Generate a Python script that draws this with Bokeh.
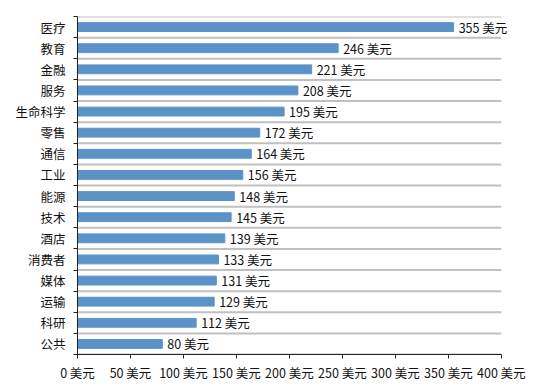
from bokeh.plotting import figure
from bokeh.models import FixedTicker, ColumnDataSource, Range1d
from bokeh.core.properties import value
from bokeh.embed import file_html
from bokeh.resources import INLINE

categories = ["医疗", "教育", "金融", "服务", "生命科学", "零售", "通信", "工业",
              "能源", "技术", "酒店", "消费者", "媒体", "运输", "科研", "公共"]
values = [355, 246, 221, 208, 195, 172, 164, 156, 148, 145, 139, 133, 131, 129, 112, 80]
x_ticks = [0, 50, 100, 150, 200, 250, 300, 350, 400]
unit = "美元"

FONT = "Noto Sans CJK SC"
n = len(categories)
centers = [n - i - 0.5 for i in range(n)]
bounds = list(range(n + 1))
xmin, xmax = x_ticks[0], x_ticks[-1]

src = ColumnDataSource(dict(
    y=centers, v=values, lab=[f"{v} {unit}" for v in values]))
grid_src = ColumnDataSource(dict(
    y=bounds, x0=[xmin] * len(bounds), x1=[xmax] * len(bounds)))

# extra room beyond the last tick so value labels are not clipped
p = figure(width=545, height=384, output_backend="svg", toolbar_location=None,
           x_range=Range1d(xmin, xmax * 1.05), y_range=Range1d(0, n),
           min_border_left=77, min_border_right=23, min_border_top=16, min_border_bottom=23)
p.outline_line_color = None
p.background_fill_color = "white"
p.xgrid.grid_line_color = None
p.ygrid.grid_line_color = None

p.segment(x0="x0", x1="x1", y0="y", y1="y", source=grid_src,
          line_color="#c0c0c0", line_width=2)
p.hbar(y="y", right="v", left=0, height=0.42, source=src, color="#5b93c8")
p.text(x="v", y="y", text="lab", source=src, x_offset=5, text_baseline="middle",
       text_align="left", text_font=value(FONT), text_font_size="12.5px",
       text_color="#111111")

# x axis
p.xaxis.bounds = (xmin, xmax)
p.xaxis.ticker = FixedTicker(ticks=x_ticks)
p.xaxis.major_label_overrides = {t: f"{t} {unit}" for t in x_ticks}
p.xaxis.major_label_text_font = FONT
p.xaxis.major_label_text_font_size = "12.5px"
p.xaxis.major_label_text_color = "#111111"
p.xaxis.axis_line_color = "#222222"
p.xaxis.major_tick_line_color = "#222222"
p.xaxis.major_tick_in = 0
p.xaxis.major_tick_out = 4
p.xaxis.minor_tick_line_color = None
p.xaxis.major_label_standoff = 4

# y axis
p.yaxis.ticker = FixedTicker(ticks=centers, minor_ticks=bounds)
p.yaxis.major_label_overrides = {c: cat for c, cat in zip(centers, categories)}
p.yaxis.major_label_text_font = FONT
p.yaxis.major_label_text_font_size = "12.5px"
p.yaxis.major_label_text_color = "#111111"
p.yaxis.axis_line_color = "#222222"
p.yaxis.major_tick_line_color = None
p.yaxis.minor_tick_line_color = "#222222"
p.yaxis.minor_tick_in = 0
p.yaxis.minor_tick_out = 4
p.yaxis.major_label_standoff = 6

open("out.html", "w").write(file_html(p, INLINE))
